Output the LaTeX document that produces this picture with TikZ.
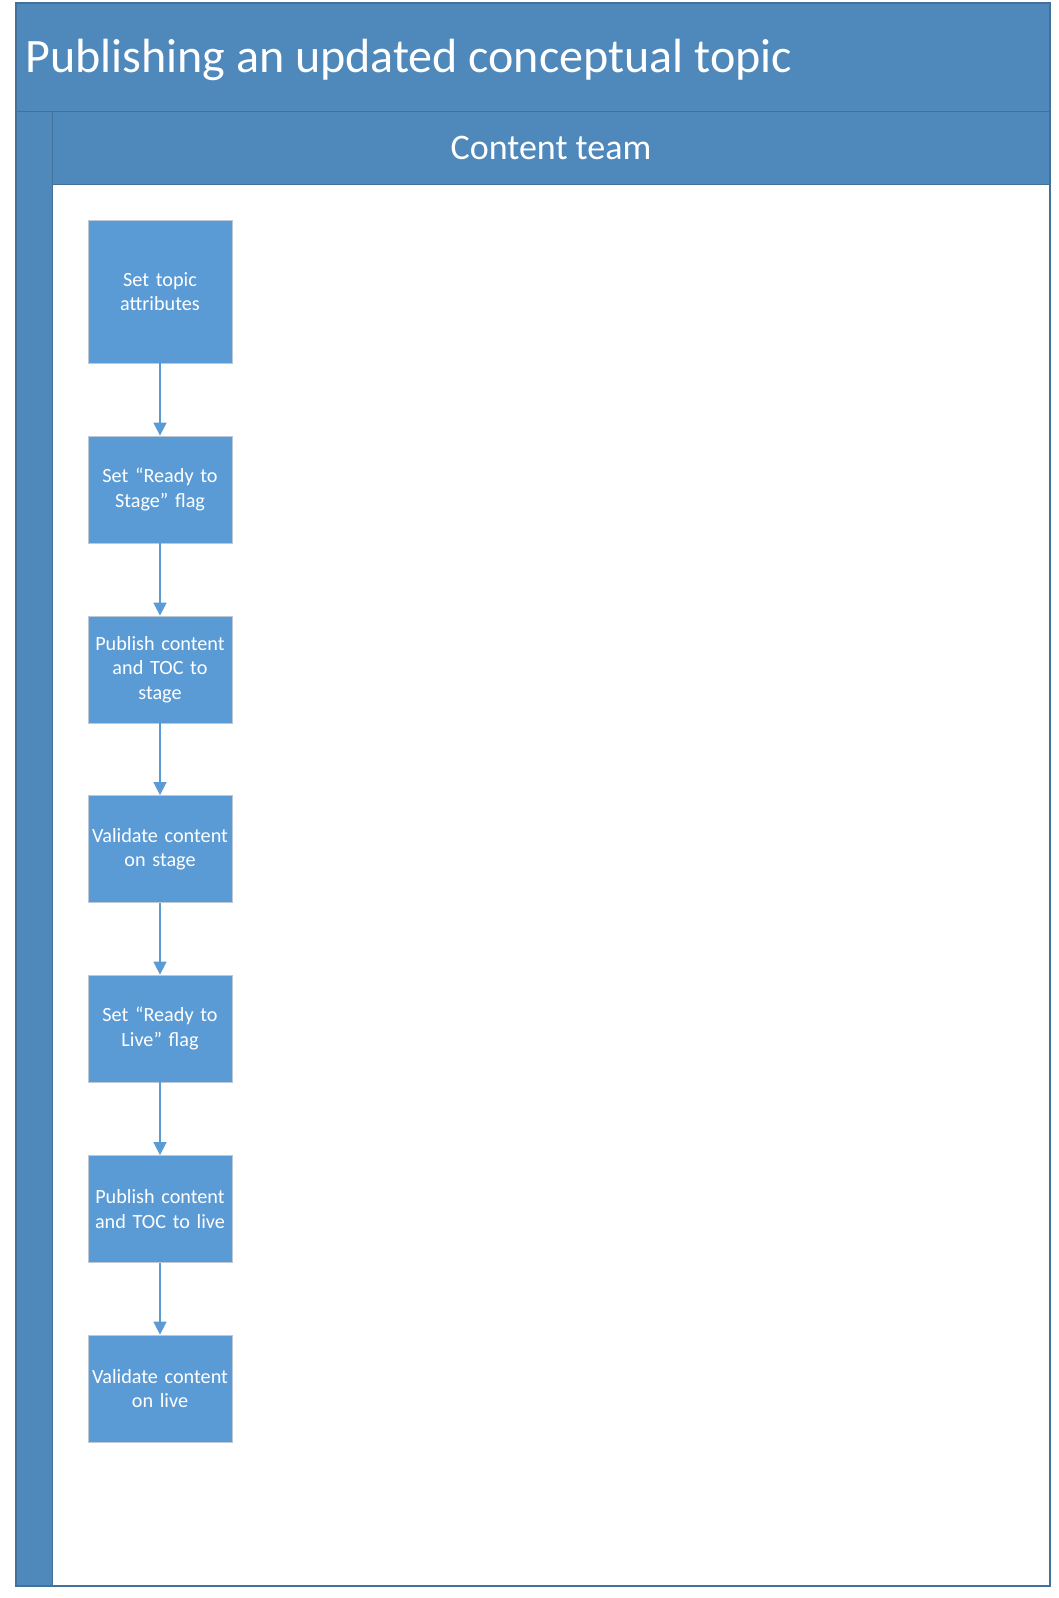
\documentclass[tikz,border=0pt]{standalone}
\usepackage{fontspec}
\setmainfont{Carlito}
\usetikzlibrary{arrows.meta,positioning}
\definecolor{frameblue}{HTML}{4F88BB}
\definecolor{frameedge}{HTML}{41719C}
\definecolor{stepfill}{HTML}{5B9BD5}
\definecolor{stepedge}{HTML}{BCC8D6}
\begin{document}
\begin{tikzpicture}[x=1pt,y=-1pt,
  stepbox/.style={rectangle,fill=stepfill,draw=stepedge,line width=0.8pt,
    minimum width=144pt,text width=141pt,align=center,inner sep=0pt,
    text=white,font=\fontsize{20.2}{24.5}\selectfont},
  flow/.style={draw=stepfill,line width=1.6pt,
    -{Triangle[width=13pt,length=13pt]}},
  band/.style={fill=frameblue,draw=frameedge,line width=0.8pt}]
\useasboundingbox (0,0) rectangle (1058,1598);
% pool frame and lane body
\fill[white] (16,3) rectangle (1050,1586);
\draw[band] (16,3) rectangle (1050,111);
\draw[band] (16,111) rectangle (52,1586);
\draw[band] (52,111) rectangle (1050,184);
\draw[frameedge,line width=1.2pt] (16,3) rectangle (1050,1586);
% titles
\node[anchor=base west,text=white,font=\fontsize{48}{54}\selectfont,inner sep=0pt]
  (pooltitle) at (25,72) {Publishing an updated conceptual topic};
\node[text=white,font=\fontsize{36}{40}\selectfont,inner sep=0pt]
  (lanetitle) at (551,148) {Content team};
% process steps
\node[stepbox,minimum height=143pt] (s1) at (160,291.5) {Set topic\\attributes};
\node[stepbox,minimum height=107pt] (s2) at (160,489.5) {Set “Ready to\\Stage” flag};
\node[stepbox,minimum height=107pt] (s3) at (160,669.5) {Publish content\\and TOC to\\stage};
\node[stepbox,minimum height=107pt] (s4) at (160,849) {Validate content\\on stage};
\node[stepbox,minimum height=107pt] (s5) at (160,1028.5) {Set “Ready to\\Live” flag};
\node[stepbox,minimum height=107pt] (s6) at (160,1209) {Publish content\\and TOC to live};
\node[stepbox,minimum height=107pt] (s7) at (160,1388.5) {Validate content\\on live};
% connectors
\foreach \a/\b in {s1/s2,s2/s3,s3/s4,s4/s5,s5/s6,s6/s7}
  \draw[flow] (\a.south) -- (\b.north);
\end{tikzpicture}
\end{document}
